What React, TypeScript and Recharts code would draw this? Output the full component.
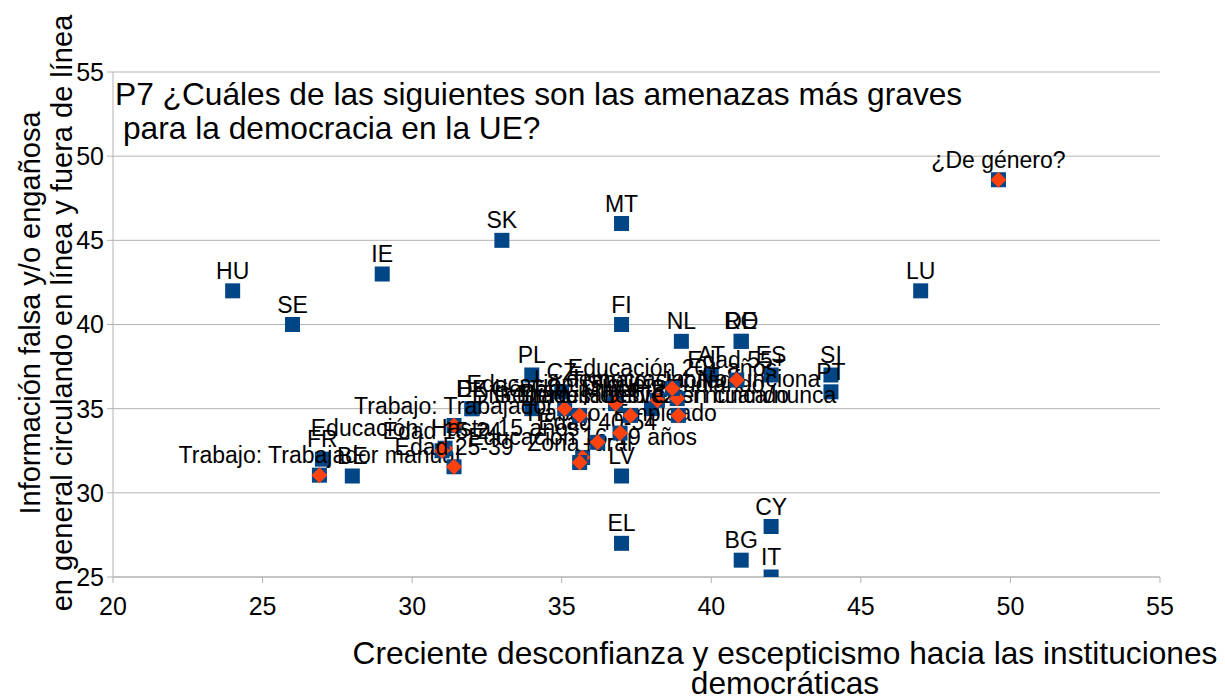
import React from 'react';
import { ScatterChart, Scatter, XAxis, YAxis, CartesianGrid, Customized } from 'recharts';

const BLUE = '#004586';
const ORANGE = '#ff420e';
const GRID = '#b3b3b3';
const FONT = '"Liberation Sans", Arial, sans-serif';

const chartTitle = ['P7 ¿Cuáles de las siguientes son las amenazas más graves', 'para la democracia en la UE?'];
const xTitle = ['Creciente desconfianza y escepticismo hacia las instituciones', 'democráticas'];
const yTitle = ['Información falsa y/o engañosa', 'en general circulando en línea y fuera de línea'];

const xTicks = [20, 25, 30, 35, 40, 45, 50, 55];
const yTicks = [25, 30, 35, 40, 45, 50, 55];

const countryNames = ['HU', 'SE', 'IE', 'SK', 'MT', 'FI', 'NL', 'RO', 'DE', 'LU', 'PL', 'CZ', 'EE', 'DK', 'LT', 'HR', 'AT', 'ES', 'SI', 'PT', 'FR', 'BE', 'LV', 'EL', 'CY', 'BG', 'IT'];
const countryX = [24, 26, 29, 33, 37, 37, 39, 41, 41, 47, 34, 35, 32, 32, 34, 38, 40, 42, 44, 44, 27, 28, 37, 37, 42, 41, 42];
const countryY = [42, 40, 43, 45, 46, 40, 39, 39, 39, 42, 37, 36, 35, 35, 35, 35, 37, 37, 37, 36, 32, 31, 31, 27, 28, 26, 25];

const groupNames = [
  '¿De género?',
  'Trabajo: Trabajador manual',
  'Trabajo: Trabajador',
  'Educación: Hasta 15 años',
  'Edad 15-24',
  'Edad 25-39',
  'Educación 16-19 años',
  'Zona rural',
  'Edad 40-54',
  'Trabajo: Empleado',
  'Género: Mujer',
  'Género: Hombre',
  'Educación: Sigue estudiando',
  'Trabajo: Jubilado',
  'Dificultades: De vez en cuando',
  'Dificultades: Casi nunca/nunca',
  'La democracia: No funciona',
  'Educación 20+ años',
  'Edad 55+',
];
const groupX = [49.6, 26.9, 31.4, 31.1, 31.0, 31.4, 35.7, 35.6, 36.2, 36.95, 35.1, 35.6, 36.8, 38.2, 37.3, 38.9, 38.86, 38.7, 40.85];
const groupY = [48.6, 31.05, 34.0, 32.65, 32.5, 31.55, 32.1, 31.8, 33.0, 33.55, 35.0, 34.6, 35.3, 35.5, 34.6, 34.6, 35.6, 36.2, 36.7];

const countryData = countryNames.map((name, i) => ({ name, x: countryX[i], y: countryY[i] }));
const groupData = groupNames.map((name, i) => ({ name, x: groupX[i], y: groupY[i] }));

const LABEL_SIZE = 23;

const SquareShape = (props: any) => {
  const { cx, cy, payload } = props;
  if (cx == null || cy == null) return null;
  return (
    <g>
      <rect x={cx - 7.5} y={cy - 7.5} width={15} height={15} fill={BLUE} />
      <text x={cx} y={cy - 12} textAnchor="middle" fontSize={LABEL_SIZE} fontFamily={FONT} fill="#000">
        {payload.name}
      </text>
    </g>
  );
};

const DiamondShape = (props: any) => {
  const { cx, cy, payload } = props;
  if (cx == null || cy == null) return null;
  return (
    <g>
      <rect x={cx - 7.5} y={cy - 7.5} width={15} height={15} fill={BLUE} />
      <polygon points={`${cx},${cy - 8} ${cx + 8},${cy} ${cx},${cy + 8} ${cx - 8},${cy}`} fill={ORANGE} />
      <text x={cx} y={cy - 12} textAnchor="middle" fontSize={LABEL_SIZE} fontFamily={FONT} fill="#000">
        {payload.name}
      </text>
    </g>
  );
};

const Titles = () => (
  <g fontFamily={FONT} fill="#000">
    <text x={107} y={97} fontSize={31.7}>{chartTitle[0]}</text>
    <text x={115} y={131} fontSize={31.7}>{chartTitle[1]}</text>
    <text x={777} y={656} fontSize={31.7} textAnchor="middle">{xTitle[0]}</text>
    <text x={777} y={686} fontSize={31.7} textAnchor="middle">{xTitle[1]}</text>
    <text transform="translate(32,305) rotate(-90)" fontSize={29} textAnchor="middle">{yTitle[0]}</text>
    <text transform="translate(64,305) rotate(-90)" fontSize={29} textAnchor="middle">{yTitle[1]}</text>
  </g>
);

export default function App() {
  return (
    <div style={{ width: 1209, height: 690, background: '#fff' }}>
      <ScatterChart width={1209} height={690} margin={{ top: 64, right: 57, bottom: 0, left: 0 }}>
        <CartesianGrid horizontal={true} vertical={false} stroke={GRID} />
        <XAxis
          type="number"
          dataKey="x"
          domain={[20, 55]}
          ticks={xTicks}
          height={121}
          stroke={GRID}
          tickSize={6}
          tickMargin={14}
          tick={{ fill: '#000', fontSize: 25, fontFamily: FONT }}
          allowDataOverflow
          interval={0}
        />
        <YAxis
          type="number"
          dataKey="y"
          domain={[25, 55]}
          ticks={yTicks}
          width={105}
          stroke={GRID}
          tickSize={6}
          tickMargin={3}
          tick={{ fill: '#000', fontSize: 25, fontFamily: FONT }}
          allowDataOverflow
          interval={0}
        />
        <Scatter data={countryData} shape={SquareShape} isAnimationActive={false} />
        <Scatter data={groupData} shape={DiamondShape} isAnimationActive={false} />
        <Customized component={Titles} />
      </ScatterChart>
    </div>
  );
}
